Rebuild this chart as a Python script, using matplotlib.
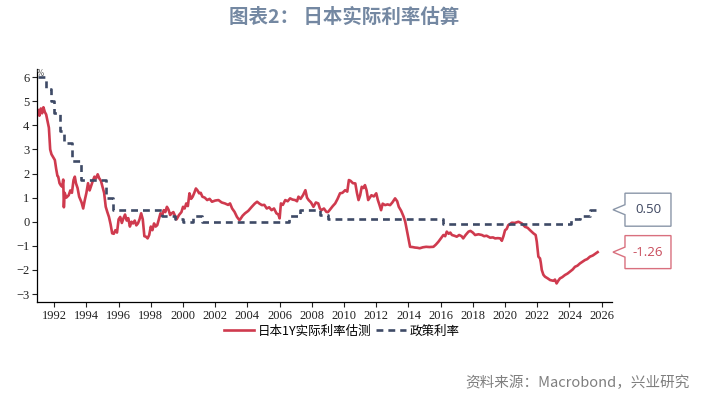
import matplotlib
matplotlib.use('Agg')
import matplotlib.pyplot as plt
from matplotlib.patches import Polygon
from matplotlib.transforms import IdentityTransform
import numpy as np

plt.rcParams['font.family'] = ['Noto Sans CJK SC', 'DejaVu Sans']

# 日本1Y实际利率估测 (year, %)
real_x = [1991.00, 1991.08, 1991.17, 1991.25, 1991.33, 1991.42, 1991.50, 1991.58, 1991.67, 1991.75,
          1991.83, 1991.92, 1992.04, 1992.12, 1992.20, 1992.25, 1992.33, 1992.42, 1992.50, 1992.56,
          1992.60, 1992.65, 1992.75, 1992.90, 1993.00, 1993.10, 1993.20, 1993.28, 1993.35, 1993.45,
          1993.55, 1993.70, 1993.80, 1993.90, 1994.00, 1994.10, 1994.20, 1994.30, 1994.40, 1994.50,
          1994.60, 1994.70, 1994.80, 1994.90, 1995.00, 1995.10, 1995.20, 1995.30, 1995.40, 1995.50,
          1995.60, 1995.70, 1995.80, 1995.90, 1996.00, 1996.10, 1996.20, 1996.30, 1996.40, 1996.50,
          1996.60, 1996.70, 1996.80, 1996.90, 1997.00, 1997.10, 1997.20, 1997.30, 1997.40, 1997.50,
          1997.60, 1997.70, 1997.80, 1997.90, 1998.00, 1998.10, 1998.20, 1998.30, 1998.40, 1998.50,
          1998.60, 1998.70, 1998.80, 1998.90, 1999.00, 1999.10, 1999.20, 1999.30, 1999.40, 1999.50,
          1999.60, 1999.75, 1999.90, 2000.00, 2000.10, 2000.20, 2000.30, 2000.40, 2000.50, 2000.60,
          2000.70, 2000.80, 2000.90, 2001.00, 2001.10, 2001.20, 2001.35, 2001.50, 2001.65, 2001.80,
          2002.00, 2002.20, 2002.40, 2002.60, 2002.80, 2002.92, 2003.05, 2003.20, 2003.35, 2003.50,
          2003.55, 2003.70, 2003.85, 2004.05, 2004.27, 2004.45, 2004.60, 2004.75, 2004.90, 2005.05,
          2005.20, 2005.35, 2005.50, 2005.65, 2005.80, 2005.92, 2006.00, 2006.08, 2006.20, 2006.35,
          2006.50, 2006.65, 2006.80, 2006.96, 2007.08, 2007.17, 2007.30, 2007.45, 2007.60, 2007.70,
          2007.80, 2007.95, 2008.10, 2008.25, 2008.40, 2008.50, 2008.60, 2008.75, 2008.90, 2009.00,
          2009.10, 2009.30, 2009.45, 2009.60, 2009.75, 2009.90, 2010.07, 2010.20, 2010.30, 2010.40,
          2010.55, 2010.70, 2010.80, 2010.90, 2011.00, 2011.10, 2011.20, 2011.30, 2011.40, 2011.50,
          2011.60, 2011.70, 2011.85, 2012.00, 2012.10, 2012.20, 2012.30, 2012.40, 2012.55, 2012.70,
          2012.86, 2013.00, 2013.17, 2013.30, 2013.40, 2013.55, 2013.70, 2013.80, 2013.90, 2014.00,
          2014.10, 2014.25, 2014.40, 2014.55, 2014.70, 2014.90, 2015.10, 2015.30, 2015.55, 2015.70,
          2015.86, 2016.00, 2016.17, 2016.28, 2016.38, 2016.50, 2016.60, 2016.70, 2016.85, 2017.00,
          2017.15, 2017.30, 2017.40, 2017.55, 2017.73, 2017.85, 2018.00, 2018.14, 2018.35, 2018.56,
          2018.70, 2018.85, 2019.07, 2019.25, 2019.38, 2019.55, 2019.70, 2019.80, 2019.90, 2020.00,
          2020.10, 2020.20, 2020.30, 2020.42, 2020.60, 2020.83, 2021.04, 2021.24, 2021.40, 2021.55,
          2021.76, 2021.90, 2021.97, 2022.07, 2022.17, 2022.22, 2022.28, 2022.38, 2022.48, 2022.65,
          2022.80, 2023.00, 2023.10, 2023.20, 2023.30, 2023.41, 2023.55, 2023.72, 2023.88, 2024.03,
          2024.20, 2024.34, 2024.50, 2024.65, 2024.80, 2024.96, 2025.10, 2025.27, 2025.45, 2025.58,
          2025.75]
real_y = [4.63, 4.40, 4.70, 4.50, 4.75, 4.55, 4.45, 4.20, 3.90, 3.00,
          2.80, 2.70, 2.56, 2.20, 1.90, 1.87, 1.60, 1.50, 1.45, 1.75,
          0.60, 1.20, 1.00, 1.10, 1.30, 1.20, 1.73, 1.87, 1.60, 1.40,
          1.04, 0.80, 0.55, 0.90, 1.20, 1.60, 1.30, 1.50, 1.70, 1.87,
          1.80, 1.97, 1.80, 1.70, 1.45, 1.20, 0.62, 0.40, 0.20, -0.10,
          -0.48, -0.50, -0.35, -0.45, 0.10, 0.20, -0.05, 0.14, 0.30, 0.05,
          0.15, -0.20, 0.00, -0.07, 0.05, -0.15, -0.07, 0.10, 0.35, 0.10,
          -0.60, -0.62, -0.69, -0.55, -0.20, -0.35, -0.07, -0.20, -0.14, 0.10,
          0.35, 0.25, 0.48, 0.40, 0.62, 0.50, 0.28, 0.35, 0.40, 0.25,
          0.10, 0.28, 0.40, 0.62, 0.55, 0.76, 0.65, 1.18, 0.95, 1.04,
          1.20, 1.38, 1.30, 1.18, 1.20, 1.04, 1.00, 0.90, 0.95, 0.83,
          0.88, 0.90, 0.80, 0.76, 0.70, 0.76, 0.55, 0.41, 0.20, 0.07,
          0.10, 0.25, 0.35, 0.45, 0.62, 0.75, 0.83, 0.75, 0.69, 0.70,
          0.55, 0.60, 0.48, 0.55, 0.35, 0.30, 0.14, 0.76, 0.70, 0.90,
          0.85, 0.97, 0.92, 0.90, 0.85, 1.04, 0.95, 1.10, 1.31, 1.00,
          0.90, 0.80, 0.62, 0.80, 0.76, 0.55, 0.48, 0.55, 0.41, 0.40,
          0.48, 0.65, 0.76, 0.95, 1.18, 1.20, 1.31, 1.25, 1.73, 1.70,
          1.60, 1.59, 1.20, 0.90, 1.10, 1.45, 1.40, 1.52, 1.30, 0.90,
          1.00, 1.10, 1.05, 1.18, 0.90, 0.70, 0.48, 0.75, 0.69, 0.72,
          0.69, 0.80, 0.97, 0.85, 0.62, 0.45, 0.21, 0.00, -0.35, -0.70,
          -1.04, -1.05, -1.07, -1.08, -1.10, -1.06, -1.04, -1.05, -1.04, -0.95,
          -0.83, -0.70, -0.55, -0.60, -0.41, -0.50, -0.45, -0.55, -0.58, -0.62,
          -0.55, -0.60, -0.69, -0.55, -0.41, -0.38, -0.45, -0.55, -0.52, -0.55,
          -0.60, -0.58, -0.66, -0.65, -0.69, -0.68, -0.69, -0.79, -0.60, -0.35,
          -0.30, -0.14, -0.10, -0.04, -0.05, 0.00, -0.07, -0.21, -0.25, -0.35,
          -0.48, -0.55, -0.83, -1.45, -1.52, -1.70, -2.00, -2.20, -2.28, -2.35,
          -2.42, -2.45, -2.40, -2.56, -2.45, -2.35, -2.30, -2.21, -2.15, -2.07,
          -1.98, -1.87, -1.82, -1.73, -1.66, -1.59, -1.55, -1.45, -1.40, -1.34,
          -1.26]

# 政策利率 (change dates, %)
policy_x = [1991.00, 1991.50, 1991.83, 1992.00, 1992.33, 1992.60, 1993.10, 1993.65, 1995.20, 1995.65,
            1998.70, 1999.50, 2000.00, 2000.65, 2001.20, 2006.60, 2007.25, 2008.50, 2009.00, 2016.15,
            2024.10, 2024.65, 2025.25, 2025.75]
policy_y = [6.00, 5.50, 5.00, 4.50, 3.75, 3.25, 2.50, 1.75, 1.00, 0.50,
            0.25, 0.10, 0.00, 0.25, 0.00, 0.25, 0.50, 0.30, 0.10, -0.10,
            0.10, 0.25, 0.50, 0.50]

year_ticks = list(range(1992, 2027, 2))
y_ticks = list(range(-3, 7))

RED = '#cf3a4e'
NAVY = '#3e4a66'

fig = plt.figure(figsize=(7.07, 3.94), dpi=100)
ax = fig.add_axes([0.0523, 0.2335, 0.8133, 0.5915])

ax.plot(real_x, real_y, color=RED, lw=1.9, label='日本1Y实际利率估测', solid_joinstyle='round')
ax.step(policy_x, policy_y, where='post', color=NAVY, lw=1.9, dashes=(2.6, 1.9),
        label='政策利率')

ax.set_xlim(1990.93, 2026.64)
ax.set_ylim(-3.33, 6.34)
ax.set_xticks(year_ticks)
ax.set_yticks(y_ticks)
ax.tick_params(direction='out', length=3.5, width=0.8, pad=2, colors='#222222',
               labelsize=9, labelfontfamily='Liberation Serif')
for s in ['top', 'right']:
    ax.spines[s].set_visible(False)
for s in ['left', 'bottom']:
    ax.spines[s].set_linewidth(0.9)
ax.text(0.0, 1.0, '%', transform=ax.transAxes, fontsize=5.5, color='#555555',
        ha='left', va='top', family='DejaVu Sans')

leg = fig.legend(loc='center', bbox_to_anchor=(342 / 707, 1 - 331 / 394), ncol=2, frameon=False,
                 fontsize=9, handlelength=2.4, handletextpad=0.3, columnspacing=0.4)


# callout boxes with the last values
def callout(val, text_color, edge_color):
    ax_right = ax.transAxes.transform((1.0, 0.0))[0]
    ypix = ax.transData.transform((2000, val))[1]
    x0 = ax_right + 1
    bl, br = x0 + 12, x0 + 58
    pts = [(x0, ypix), (bl, ypix + 5), (bl, ypix + 16.5), (br, ypix + 16.5),
           (br, ypix - 16.5), (bl, ypix - 16.5), (bl, ypix - 5)]
    fig.add_artist(Polygon(pts, closed=True, transform=IdentityTransform(),
                           facecolor='white', edgecolor=edge_color, lw=1.0))
    fig.text((bl + br) / 2 / 707, ypix / 394, f'{val:.2f}', ha='center', va='center',
             fontsize=9.5, color=text_color, family=['Open Sans', 'DejaVu Sans'])


callout(policy_y[-1], '#3d4660', '#8a96a8')
callout(real_y[-1], '#c84a5a', '#d9707e')

fig.text(344 / 707, 1 - 17 / 394, '图表2： 日本实际利率估算', ha='center', va='center',
         fontsize=14, fontweight='bold', color='#7488a2')
fig.text(690 / 707, 1 - 383 / 394, '资料来源：Macrobond，兴业研究', ha='right', va='center',
         fontsize=10.5, color='#7f7f7f')

fig.savefig('out.png', dpi=100)
